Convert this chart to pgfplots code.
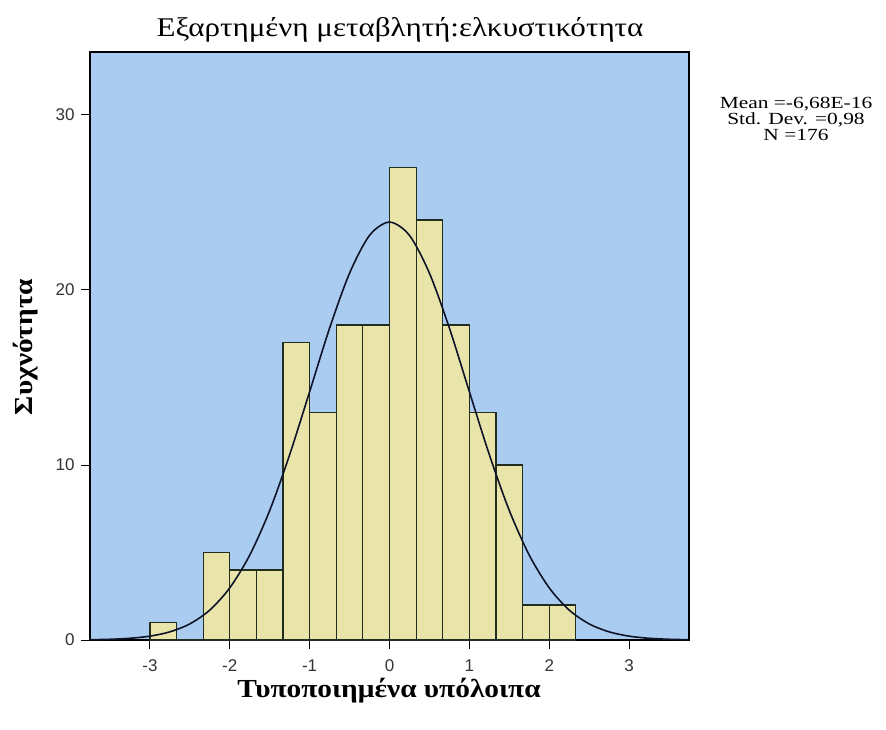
\documentclass[border=0pt]{standalone}
\usepackage{pgfplots}
\pgfplotsset{compat=1.18}
\usepackage{fontspec}
\setmainfont{Liberation Serif}
\newfontfamily\tickfont{Liberation Sans}

\definecolor{bgblue}{RGB}{170,204,240}
\definecolor{barfill}{RGB}{232,228,170}
\definecolor{baredge}{RGB}{35,45,30}
\definecolor{curve}{RGB}{15,20,40}

\begin{document}
\begin{tikzpicture}
\useasboundingbox (0,0) rectangle (886pt,729pt);
\begin{axis}[
    at={(90pt,89pt)}, anchor=south west,
    scale only axis,
    width=599pt, height=588pt,
    xmin=-3.75, xmax=3.75,
    ymin=0, ymax=33.6,
    xtick={-3,-2,-1,0,1,2,3},
    ytick={0,10,20,30},
    xtick pos=bottom, ytick pos=left,
    tick align=outside,
    major tick length=9pt,
    tick style={black, line width=1pt},
    axis line style={black, line width=1.2pt},
    axis background/.style={fill=bgblue},
    ticklabel style={font=\tickfont\fontsize{17}{19}\selectfont, text=black!80},
    xticklabel style={yshift=-7pt},
    yticklabel style={xshift=-3pt},
    /pgf/number format/assume math mode=true,
]

% histogram, bin width 1/3
\addplot[ybar interval, fill=barfill, draw=baredge, line width=1.2pt]
    coordinates {
    (-3.0000, 1)
    (-2.6667, 0)
    (-2.3333, 5)
    (-2.0000, 4)
    (-1.6667, 4)
    (-1.3333, 17)
    (-1.0000, 13)
    (-0.6667, 18)
    (-0.3333, 18)
    (0.0000, 27)
    (0.3333, 24)
    (0.6667, 18)
    (1.0000, 13)
    (1.3333, 10)
    (1.6667, 2)
    (2.0000, 2)
    (2.3333, 0)
    };

% normal curve
\addplot[curve, line width=1.6pt, smooth]
    coordinates {
    (-3.75, 0.016) (-3.5, 0.041) (-3.25, 0.098) (-3.0, 0.220)
    (-2.75, 0.466) (-2.5, 0.922) (-2.25, 1.71) (-2.0, 2.98)
    (-1.75, 4.85) (-1.5, 7.40) (-1.25, 10.59) (-1.0, 14.19)
    (-0.75, 17.82) (-0.5, 20.96) (-0.25, 23.12) (0.0, 23.88)
    (0.25, 23.12) (0.5, 20.96) (0.75, 17.82) (1.0, 14.19)
    (1.25, 10.59) (1.5, 7.40) (1.75, 4.85) (2.0, 2.98)
    (2.25, 1.71) (2.5, 0.922) (2.75, 0.466) (3.0, 0.220)
    (3.25, 0.098) (3.5, 0.041) (3.75, 0.016)
    };
\end{axis}

\node[font=\fontsize{27}{30}\selectfont, xscale=1.15] at (400pt,699pt) {Εξαρτημένη μεταβλητή:ελκυστικότητα};
\node[font=\bfseries\fontsize{26}{30}\selectfont, xscale=1.13] at (389pt,38pt) {Τυποποιημένα υπόλοιπα};
\node[font=\bfseries\fontsize{26}{30}\selectfont, rotate=90, xscale=1.13] at (26pt,382pt) {Συχνότητα};
\node[font=\fontsize{17}{15.8}\selectfont, align=center, xscale=1.26] at (796pt,610pt)
    {Mean =-6,68E-16\\Std. Dev. =0,98\\N =176};
\end{tikzpicture}
\end{document}
